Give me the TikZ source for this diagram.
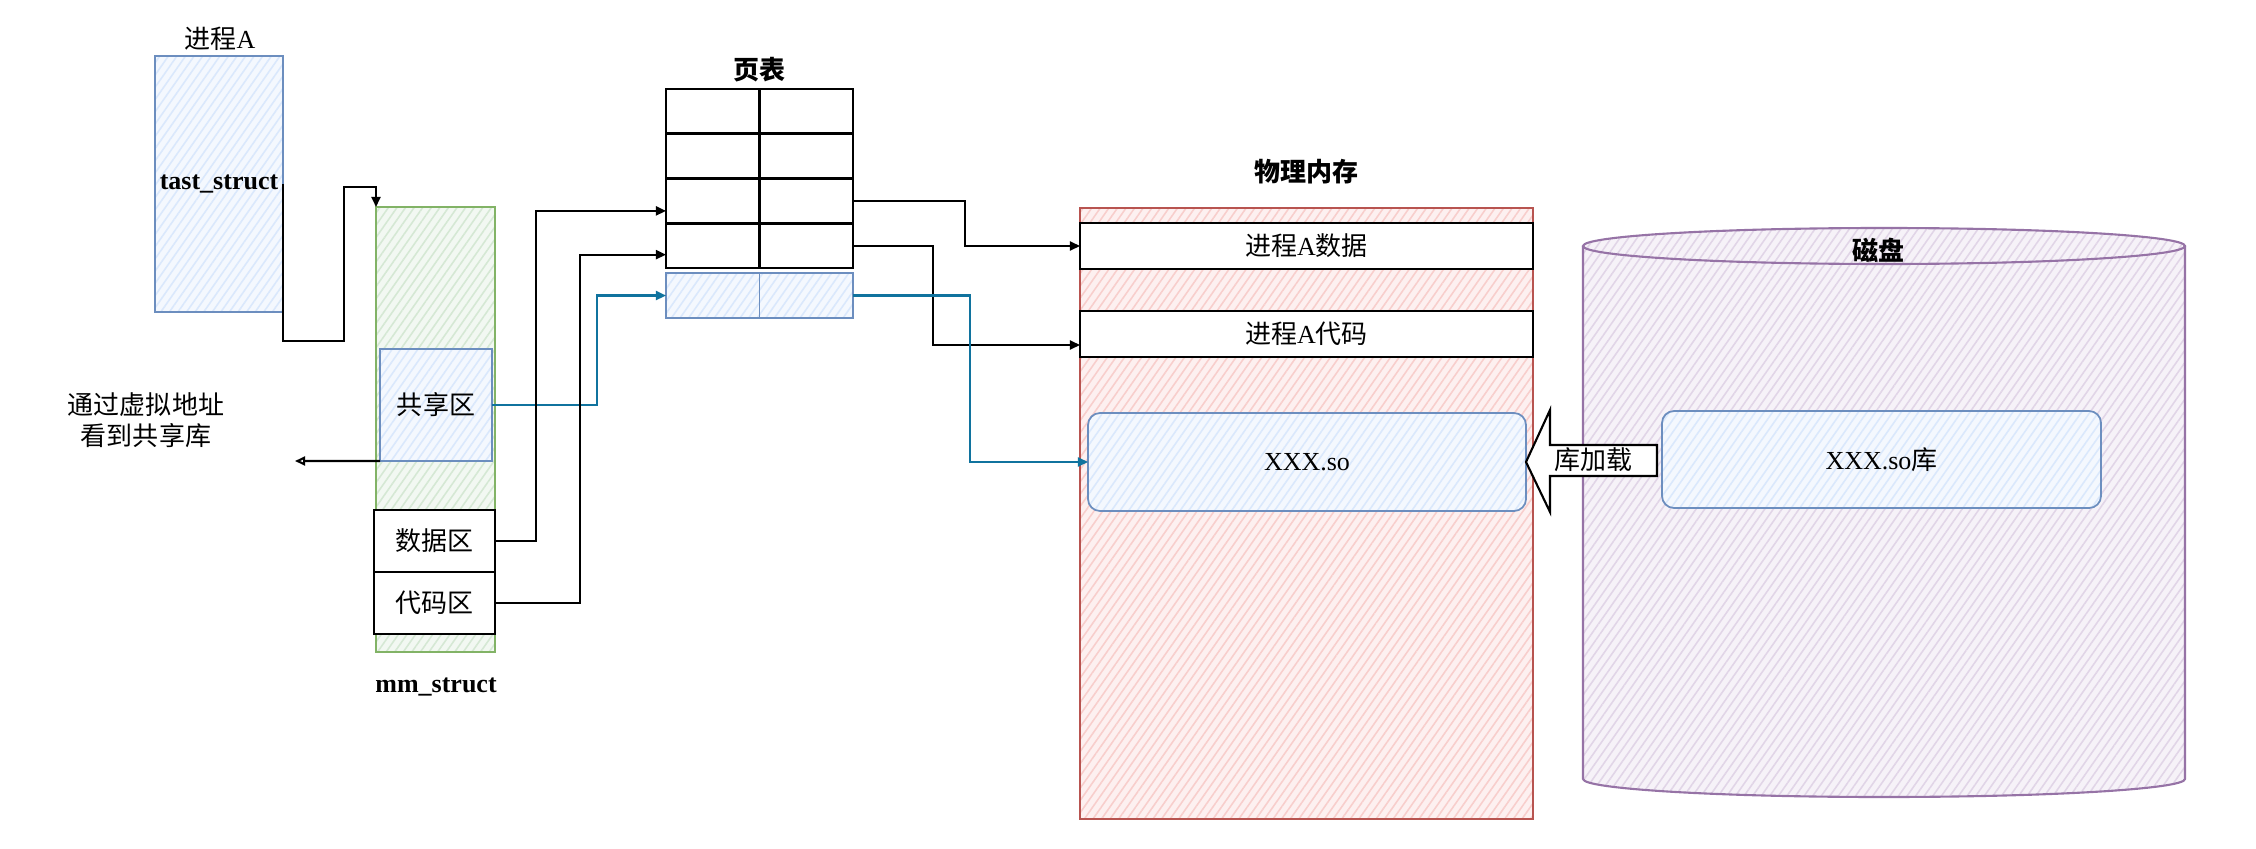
\documentclass[tikz,border=0pt]{standalone}
\usepackage{fontspec}
\setmainfont{Liberation Serif}
\newfontfamily\cjk{Noto Sans CJK SC}
\newcommand{\zh}[1]{{\cjk #1}}
\usetikzlibrary{positioning, arrows.meta, patterns.meta}

\definecolor{bluefill}{HTML}{DAE8FC}
\definecolor{bluedraw}{HTML}{6C8EBF}
\definecolor{greenfill}{HTML}{D5E8D4}
\definecolor{greendraw}{HTML}{82B366}
\definecolor{redfill}{HTML}{F8CECC}
\definecolor{reddraw}{HTML}{B85450}
\definecolor{purplefill}{HTML}{E1D5E7}
\definecolor{purpledraw}{HTML}{9673A6}
\definecolor{linkblue}{HTML}{10739E}

\tikzset{hatch/.style={preaction={fill=#1!30}, pattern={Lines[angle=55,distance=2pt,line width=0.45pt]}, pattern color=#1}}
\tikzstyle{bluebox} = [rectangle, draw=bluedraw, hatch=bluefill, line width=0.5pt, inner sep=0pt, outer sep=0pt]
\tikzstyle{greenbox} = [rectangle, draw=greendraw, hatch=greenfill, line width=0.5pt, inner sep=0pt, outer sep=0pt]
\tikzstyle{redbox} = [rectangle, draw=reddraw, hatch=redfill, line width=0.5pt, inner sep=0pt, outer sep=0pt]
\tikzstyle{plainbox} = [rectangle, draw=black, fill=white, line width=0.8pt, inner sep=0pt, outer sep=0pt]
\tikzstyle{cell} = [plainbox, minimum width=9.35mm, minimum height=4.475mm]
\tikzstyle{bluecell} = [bluebox, minimum width=9.35mm, minimum height=4.5mm]
\tikzstyle{title} = [font=\fontsize{7.4}{9}\selectfont\cjk\bfseries]
\tikzstyle{line} = [draw, line width=0.6pt, -{Triangle[length=2.9pt,width=2.6pt]}]
\tikzstyle{blueline} = [line, draw=linkblue]
\tikzstyle{openline} = [draw, line width=0.6pt, -{Triangle[open,length=2.9pt,width=2.6pt]}]
\tikzstyle{loadarrow} = [draw=black, fill=white, line width=0.6pt]

\begin{document}
\begin{tikzpicture}[x=0.1mm, y=-0.1mm, font=\fontsize{7.4}{9}\selectfont]
        \useasboundingbox (0,0) rectangle (2256,848);

        % process side
        \node (task) [bluebox, minimum width=12.8mm, minimum height=25.6mm] at (219,184) {\textbf{tast\_struct}};
        \node (procA) at (220,39) {\zh{进程}A};
        \node (mm) [greenbox, minimum width=11.9mm, minimum height=44.5mm] at (435.5,429.5) {};
        \node (mmlabel) at (436,687) {\textbf{mm\_struct}};
        \node (share) [bluebox, minimum width=11.2mm, minimum height=11.2mm] at (436,405) {\zh{共享区}};
        \node (data) [plainbox, minimum width=12.1mm, minimum height=6.2mm] at (434.5,541) {\zh{数据区}};
        \node (code) [plainbox, minimum width=12.1mm, minimum height=6.2mm, below=0pt of data] {\zh{代码区}};
        \node (note) [align=center] at (146,420) {\zh{通过虚拟地址}\\\zh{看到共享库}};
        \coordinate (noteend) at (295,461);

        % page table
        \node (pttitle) [title] at (759,70) {页表};
        \node (pt1l) [cell] at (712.75,111.4) {};
        \node (pt1r) [cell, right=0pt of pt1l] {};
        \node (pt2l) [cell, below=0pt of pt1l] {};
        \node (pt2r) [cell, right=0pt of pt2l] {};
        \node (pt3l) [cell, below=0pt of pt2l] {};
        \node (pt3r) [cell, right=0pt of pt3l] {};
        \node (pt4l) [cell, below=0pt of pt3l] {};
        \node (pt4r) [cell, right=0pt of pt4l] {};
        \node (ptb1) [bluecell, below=0.5mm of pt4l] {};
        \node (ptb2) [bluecell, right=0pt of ptb1] {};

        % physical memory
        \node (memtitle) [title] at (1306,172) {物理内存};
        \node (mem) [redbox, minimum width=45.3mm, minimum height=61.1mm] at (1306.5,513.5) {};
        \node (memdata) [plainbox, minimum width=45.3mm, minimum height=4.6mm] at (1306.5,246) {\zh{进程}A\zh{数据}};
        \node (memcode) [plainbox, minimum width=45.3mm, minimum height=4.6mm] at (1306.5,334) {\zh{进程}A\zh{代码}};
        \node (so) [bluebox, rounded corners=1.2mm, minimum width=43.8mm, minimum height=9.8mm] at (1307,462) {XXX.so};

        % disk
        \path [hatch=purplefill] (1583,246) -- (1583,779) arc[start angle=180, end angle=360, x radius=30.1mm, y radius=1.8mm]
              -- (2185,246) arc[start angle=0, end angle=180, x radius=30.1mm, y radius=1.8mm] -- cycle;
        \draw [purpledraw, line width=0.6pt] (1884,246) ellipse [x radius=30.1mm, y radius=1.8mm];
        \draw [purpledraw, line width=0.6pt] (1583,246) -- (1583,779) arc[start angle=180, end angle=360, x radius=30.1mm, y radius=1.8mm] -- (2185,246);
        \node (disktitle) [title] at (1878,250) {磁盘};
        \node (sodisk) [bluebox, rounded corners=1.2mm, minimum width=43.9mm, minimum height=9.7mm] at (1881.5,459.5) {XXX.so\zh{库}};

        % Draw edges
        \path [line] (task.east) -- ++(0,157) -- ++(61,0) -- ++(0,-154) -| (mm.north west);
        \path [openline] (share.south west) -- (noteend);
        \path [blueline] (share.east) -- ++(105,0) |- (ptb1.west);
        \path [line] (data.east) -- ++(41,0) |- ([yshift=-1mm]pt3l.west);
        \path [line] (code.east) -- ++(85,0) |- ([yshift=-0.9mm]pt4l.west);
        \path [line] (pt3r.east) -- ++(112,0) |- (memdata.west);
        \path [line] (pt4r.east) -- ++(80,0) |- ([yshift=-1.1mm]memcode.west);
        \path [blueline] (ptb2.east) -- ++(117,0) |- (so.west);
        \draw [loadarrow] (so.east) -- ++(24,-52) -- ++(0,35) -- ++(107,0) -- ++(0,31) -- ++(-107,0) -- ++(0,36) -- cycle;
        \node (load) at (1593,460) {\zh{库加载}};

\end{tikzpicture}
\end{document}
